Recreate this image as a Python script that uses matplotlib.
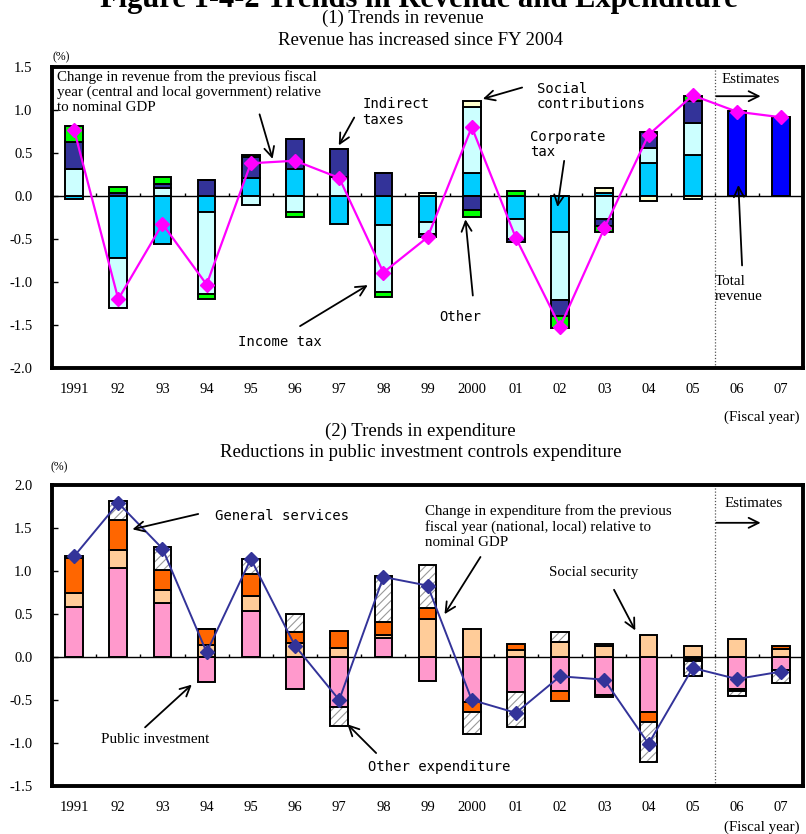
import numpy as np
import matplotlib
matplotlib.use("Agg")
import matplotlib.pyplot as plt

years = ['1991', '92', '93', '94', '95', '96', '97', '98', '99', '2000',
         '01', '02', '03', '04', '05', '06', '07']

# ---- Revenue components (% of nominal GDP, change from previous FY)
corporate_tax = [-0.04, -0.72, -0.56, -0.19, 0.21, 0.31, -0.33, -0.34, -0.30, 0.27,
                 -0.27, -0.415, 0.03, 0.38, 0.48, 0, 0]
income_tax = [0.31, -0.58, 0.09, -0.95, -0.10, -0.19, 0.225, -0.78, -0.14, 0.77,
              -0.23, -0.795, -0.27, 0.175, 0.37, 0, 0]
indirect_taxes = [0.32, 0.03, 0.045, 0.18, 0.24, 0.35, 0.325, 0.27, -0.035, -0.16,
                  -0.04, -0.19, -0.075, 0.185, 0.25, 0, 0]
social_contrib = [0, 0, 0, 0, 0, 0, 0, 0, 0.035, 0.07,
                  0, 0, 0.06, -0.055, -0.035, 0, 0]
other_revenue = [0.18, 0.07, 0.09, -0.06, 0.03, -0.06, 0, -0.05, 0, -0.085,
                 0.06, -0.13, -0.075, 0, 0.065, 0, 0]
total_revenue_est = [np.nan] * 15 + [0.99, 0.92]
revenue_change = [0.77, -1.20, -0.325, -1.03, 0.38, 0.41, 0.21, -0.89, -0.48, 0.80,
                  -0.49, -1.52, -0.375, 0.71, 1.17, 0.98, 0.915]

# ---- Expenditure components
public_investment = [0.58, 1.04, 0.63, -0.29, 0.53, -0.37, -0.585, 0.22, -0.275, -0.52,
                     -0.41, -0.39, -0.44, -0.645, -0.02, -0.37, -0.15]
social_security = [0.165, 0.205, 0.147, 0.143, 0.175, 0.163, 0.105, 0.03, 0.446, 0.33,
                   0.085, 0.17, 0.124, 0.25, 0.124, 0.21, 0.097]
general_services = [0.405, 0.35, 0.24, 0.187, 0.265, 0.127, 0.20, 0.157, 0.124, -0.117,
                    0.07, -0.125, -0.02, -0.113, -0.03, -0.022, 0.033]
other_expenditure = [0.027, 0.213, 0.26, 0, 0.17, 0.21, -0.22, 0.54, 0.496, -0.263,
                     -0.404, 0.12, 0.031, -0.464, -0.167, -0.067, -0.148]
expenditure_change = [1.17, 1.79, 1.26, 0.054, 1.14, 0.13, -0.50, 0.93, 0.83, -0.50,
                      -0.65, -0.225, -0.264, -1.01, -0.128, -0.256, -0.17]

SERIF = ['Liberation Serif', 'DejaVu Serif']
MONO = ['DejaVu Sans Mono']
plt.rcParams['font.family'] = SERIF
plt.rcParams['hatch.linewidth'] = 0.8

fig = plt.figure(figsize=(8.06, 8.34), dpi=100)
ax1 = fig.add_axes([0.0645, 0.5588, 0.932, 0.3609])
ax2 = fig.add_axes([0.0645, 0.0576, 0.932, 0.3609])

x = np.arange(len(years))
W = 0.4


def stack(ax, comps, colors, hatches=None):
    pos = np.zeros(len(x))
    neg = np.zeros(len(x))
    for i, (vals, col) in enumerate(zip(comps, colors)):
        v = np.array(vals, dtype=float)
        bottom = np.where(v >= 0, pos, neg)
        h = hatches[i] if hatches else None
        if h:
            ax.bar(x, v, W, bottom=bottom, color='white', edgecolor='#999999',
                   hatch=h, linewidth=0, zorder=3)
            ax.bar(x, v, W, bottom=bottom, fill=False, edgecolor='black',
                   linewidth=1.4, zorder=3.5)
        else:
            ax.bar(x, v, W, bottom=bottom, color=col, edgecolor='black',
                   linewidth=1.4, zorder=3)
        pos = np.where(v >= 0, pos + v, pos)
        neg = np.where(v < 0, neg + v, neg)


def style(ax, ylo, yhi):
    ax.set_xlim(-0.5, len(years) - 0.5)
    ax.set_ylim(ylo, yhi)
    ticks = np.arange(ylo, yhi + 0.01, 0.5)
    ax.set_yticks(ticks)
    ax.set_yticklabels([f'{t:.1f}' for t in ticks], fontsize=10.5)
    ax.tick_params(axis='y', direction='in', length=4, width=1, pad=14)
    ax.set_xticks(x)
    ax.set_xticklabels(years, fontsize=10.5)
    ax.tick_params(axis='x', length=0, pad=11)
    for s in ax.spines.values():
        s.set_linewidth(2.8)
    ax.axhline(0, color='black', lw=1, zorder=2)
    ax.vlines(np.arange(len(years) - 1) + 0.5, 0, 0.035,
              colors='black', lw=1, zorder=2)
    ax.axvline(14.5, color='#555555', ls=(0, (1, 1.5)), lw=0.9, zorder=1)


def arrow(ax, xy_from, xy_to):
    ax.annotate('', xy=xy_to, xytext=xy_from,
                arrowprops=dict(arrowstyle='->', color='black', lw=1.3,
                                mutation_scale=18), zorder=6)


# ---------------- Top: revenue
stack(ax1, [corporate_tax, income_tax, indirect_taxes, social_contrib, other_revenue],
      ['#00CCFF', '#CCFFFF', '#333399', '#FFFFCC', '#00FF00'])
ax1.bar(x, total_revenue_est, W, color='#0000FF', edgecolor='black', linewidth=1.4, zorder=3)
ax1.plot(x, revenue_change, color='#FF00FF', lw=1.6, marker='D', markersize=7,
         markeredgecolor='#FF00FF', zorder=5)
style(ax1, -2.0, 1.5)

ax1.text(-0.38, 1.465, 'Change in revenue from the previous fiscal\n'
         'year (central and local government) relative\nto nominal GDP',
         ha='left', va='top', fontsize=10.8, linespacing=1.2)
arrow(ax1, (4.18, 0.98), (4.51, 0.40))
ax1.text(6.52, 1.15, 'Indirect\ntaxes', family=MONO, fontsize=10, ha='left', va='top',
         linespacing=1.15)
arrow(ax1, (6.37, 0.94), (5.96, 0.56))
ax1.text(10.47, 1.33, 'Social\ncontributions', family=MONO, fontsize=10, ha='left',
         va='top', linespacing=1.15)
arrow(ax1, (10.2, 1.27), (9.19, 1.12))
ax1.text(10.32, 0.77, 'Corporate\ntax', family=MONO, fontsize=10, ha='left', va='top',
         linespacing=1.15)
arrow(ax1, (11.1, 0.44), (10.93, -0.16))
ax1.text(8.26, -1.41, 'Other', family=MONO, fontsize=10, ha='left', va='center')
arrow(ax1, (9.03, -1.19), (8.85, -0.24))
ax1.text(3.72, -1.70, 'Income tax', family=MONO, fontsize=10, ha='left', va='center')
arrow(ax1, (5.06, -1.53), (6.70, -1.02))
ax1.text(14.51, -0.92, 'Total\nrevenue', fontsize=10.8, ha='left', va='top',
         linespacing=1.2)
arrow(ax1, (15.12, -0.84), (15.03, 0.16))
ax1.text(14.65, 1.35, 'Estimates', fontsize=10.8, ha='left', va='center')
arrow(ax1, (14.47, 1.16), (15.6, 1.16))
ax1.text(0.012, 1.033, '(%)', transform=ax1.transAxes, fontsize=8.5, ha='center',
         va='center')
ax1.text(0.995, -0.163, '(Fiscal year)', transform=ax1.transAxes, fontsize=10.8,
         ha='right', va='center')

# ---------------- Bottom: expenditure
stack(ax2, [public_investment, social_security, general_services, other_expenditure],
      ['#FF99CC', '#FFCC99', '#FF6600', 'white'], hatches=[None, None, None, '////'])
ax2.plot(x, expenditure_change, color='#333399', lw=1.4, marker='D', markersize=7,
         zorder=5)
style(ax2, -1.5, 2.0)

ax2.text(3.2, 1.64, 'General services', family=MONO, fontsize=10, ha='left',
         va='center')
arrow(ax2, (2.87, 1.67), (1.26, 1.477))
ax2.text(7.95, 1.78, 'Change in expenditure from the previous\n'
         'fiscal year (national, local) relative to\nnominal GDP',
         ha='left', va='top', fontsize=10.8, linespacing=1.22)
arrow(ax2, (9.23, 1.19), (8.35, 0.47))
ax2.text(10.74, 0.98, 'Social security', fontsize=10.8, ha='left', va='center')
arrow(ax2, (12.19, 0.81), (12.73, 0.28))
ax2.text(0.61, -0.965, 'Public investment', fontsize=10.8, ha='left', va='center')
arrow(ax2, (1.56, -0.84), (2.71, -0.30))
ax2.text(6.66, -1.28, 'Other expenditure', family=MONO, fontsize=10, ha='left',
         va='center')
arrow(ax2, (6.88, -1.14), (6.14, -0.76))
ax2.text(14.72, 1.78, 'Estimates', fontsize=10.8, ha='left', va='center')
arrow(ax2, (14.47, 1.56), (15.6, 1.56))
ax2.text(0.01, 1.06, '(%)', transform=ax2.transAxes, fontsize=8.5, ha='center',
         va='center')
ax2.text(0.995, -0.136, '(Fiscal year)', transform=ax2.transAxes, fontsize=10.8,
         ha='right', va='center')

# ---------------- Titles
fig.text(0.52, 0.9915, 'Figure 1-4-2 Trends in Revenue and Expenditure',
         fontsize=22, fontweight='bold', ha='center', va='baseline')
fig.text(0.5, 0.978, '(1) Trends in revenue', fontsize=13.5, ha='center', va='center')
fig.text(0.522, 0.952, 'Revenue has increased since FY 2004', fontsize=13.5,
         ha='center', va='center')
fig.text(0.522, 0.483, '(2) Trends in expenditure', fontsize=13.5, ha='center',
         va='center')
fig.text(0.522, 0.458, 'Reductions in public investment controls expenditure',
         fontsize=13.5, ha='center', va='center')

fig.savefig('out.png', dpi=100)
